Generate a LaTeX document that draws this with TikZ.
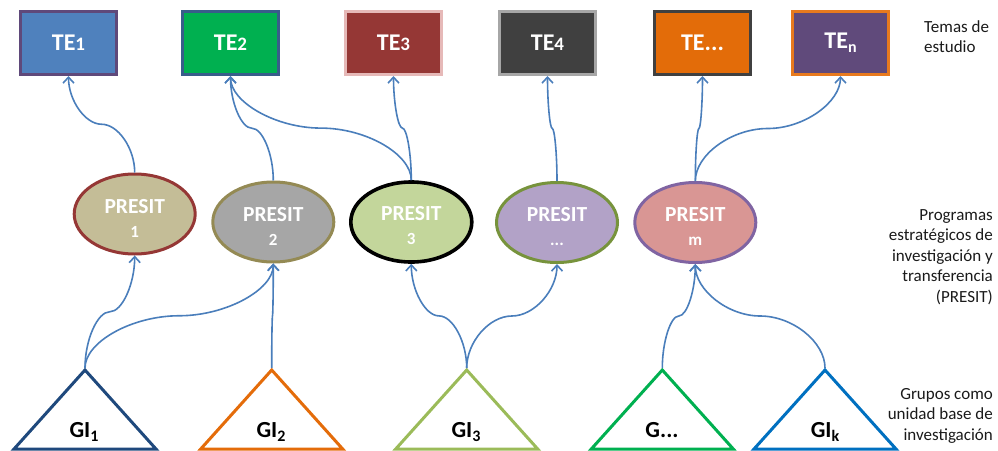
\documentclass[tikz,border=0pt]{standalone}
\usepackage{fontspec}
\setmainfont{Carlito}
\usetikzlibrary{arrows.meta,calc,shapes.geometric}
\definecolor{connC}{HTML}{4A7EBB}
\definecolor{teAf}{HTML}{4F81BD}\definecolor{teAd}{HTML}{5F497A}
\definecolor{teBf}{HTML}{00B050}\definecolor{teBd}{HTML}{385D8A}
\definecolor{teCf}{HTML}{953735}\definecolor{teCd}{HTML}{E6B9B8}
\definecolor{teDf}{HTML}{404040}\definecolor{teDd}{HTML}{A6A6A6}
\definecolor{teEf}{HTML}{E36C09}\definecolor{teEd}{HTML}{404040}
\definecolor{teFf}{HTML}{604A7B}\definecolor{teFd}{HTML}{E87A1E}
\definecolor{pAf}{HTML}{C4BD97}\definecolor{pAd}{HTML}{953735}
\definecolor{pBf}{HTML}{A6A6A6}\definecolor{pBd}{HTML}{948A54}
\definecolor{pCf}{HTML}{C3D69B}\definecolor{pCd}{HTML}{000000}
\definecolor{pDf}{HTML}{B2A2C7}\definecolor{pDd}{HTML}{77933C}
\definecolor{pEf}{HTML}{D99694}\definecolor{pEd}{HTML}{8064A2}
\definecolor{gA}{HTML}{1F497D}
\definecolor{gB}{HTML}{E46C0A}
\definecolor{gC}{HTML}{9BBB59}
\definecolor{gD}{HTML}{00B050}
\definecolor{gE}{HTML}{0070C0}
\definecolor{sideC}{HTML}{1A1A1A}
\tikzset{
  tebox/.style={draw, line width=3pt, minimum width=96pt, minimum height=63pt, inner sep=0pt,
    text=white, font=\fontsize{24}{24}\selectfont\bfseries},
  presit/.style={ellipse, draw, line width=3pt, minimum width=121pt, minimum height=80pt, inner sep=0pt,
    text=white, align=center, font=\fontsize{21.5}{24}\selectfont\bfseries},
  tri/.style={line width=3pt, line join=miter, fill=white},
  gitext/.style={font=\fontsize{23}{23}\selectfont\bfseries, inner sep=0pt, anchor=base},
  side/.style={font=\fontsize{17}{20.5}\selectfont, inner sep=0pt, text=sideC},
  elbow/.style={to path={let \p1=(\tikztostart), \p2=(\tikztotarget) in
    .. controls (\x1,{\y1+(\y2-\y1)/4}) and ({\x1+(\x2-\x1)/4},{(\y1+\y2)/2})
    .. ({(\x1+\x2)/2},{(\y1+\y2)/2})
    .. controls ({\x1+3*(\x2-\x1)/4},{(\y1+\y2)/2}) and (\x2,{\y1+3*(\y2-\y1)/4})
    .. (\tikztotarget) \tikztonodes}},
  conn/.style={draw=connC, line width=1.6pt, -{Straight Barb[length=6pt,width=11pt]}, elbow},
}
\newcommand\smalldig[1]{{\fontsize{19}{19}\selectfont #1}}
\newcommand\subdig[1]{\raisebox{-4pt}{\fontsize{16}{16}\selectfont #1}}
\newcommand\ptext[1]{\rule{0pt}{22pt}PRESIT\\{\fontsize{17}{17}\selectfont #1}}
\begin{document}
\begin{tikzpicture}[x=1pt,y=-1pt]
\useasboundingbox (0,0) rectangle (998,450);
% top boxes
\node[tebox, fill=teAf, draw=teAd] (te1) at (68.5,43) {TE\smalldig{1}};
\node[tebox, fill=teBf, draw=teBd] (te2) at (230.5,43) {TE\smalldig{2}};
\node[tebox, fill=teCf, draw=teCd] (te3) at (393.5,43) {TE\smalldig{3}};
\node[tebox, fill=teDf, draw=teDd] (te4) at (547.5,43) {TE\smalldig{4}};
\node[tebox, fill=teEf, draw=teEd] (te5) at (702.5,43) {TE...};
\node[tebox, fill=teFf, draw=teFd] (te6) at (840.5,43) {TE\subdig{n}};
% ellipses
\node[presit, fill=pAf, draw=pAd] (p1) at (134.7,214) {\ptext{1}};
\node[presit, fill=pBf, draw=pBd] (p2) at (273.3,222) {\ptext{2}};
\node[presit, fill=pCf, draw=pCd, line width=3.6pt] (p3) at (411.3,222) {\ptext{3}};
\node[presit, fill=pDf, draw=pDd] (p4) at (557,222.5) {\ptext{...}};
\node[presit, fill=pEf, draw=pEd] (p5) at (695.3,222.5) {\ptext{m}};
% triangles
\coordinate (g1) at (85,368);
\coordinate (g2) at (271.7,368);
\coordinate (g3) at (466.7,368);
\coordinate (g4) at (662.3,368);
\coordinate (g5) at (825,368);
\draw[tri, draw=gA] (85,370) -- (14,449) -- (156,449) -- cycle;
\draw[tri, draw=gB] (271.7,370) -- (200.7,449) -- (342.7,449) -- cycle;
\draw[tri, draw=gC] (466.7,370) -- (395.7,449) -- (537.7,449) -- cycle;
\draw[tri, draw=gD] (662.3,370) -- (591.3,449) -- (733.3,449) -- cycle;
\draw[tri, draw=gE] (825,370) -- (754,449) -- (896,449) -- cycle;
\node[gitext] (g1t) at (84,437) {GI\subdig{1}};
\node[gitext] (g2t) at (271,437) {GI\subdig{2}};
\node[gitext] (g3t) at (466,437) {GI\subdig{3}};
\node[gitext] (g4t) at (662,437) {G...};
\node[gitext] (g5t) at (825,437) {GI\subdig{k}};
% side labels (base anchor = last line baseline)
\node[side, anchor=base west, align=left] (lab1) at (924,52.5) {Temas de\\estudio};
\node[side, anchor=base east, align=right] (lab2) at (993,302) {Programas\\estratégicos de\\investigación y\\transferencia\\(PRESIT)};
\node[side, anchor=base east, align=right] (lab3) at (993,440) {Grupos como\\unidad base de\\investigación};
% connectors upper
\draw[conn] (p1.north) to (te1.south);
\draw[conn] (p2.north) to (te2.south);
\draw[conn] (p3.north) to (te2.south);
\draw[conn] (p3.north) to (te3.south);
\draw[conn] (p4.north) to (te4.south);
\draw[conn] (p5.north) to (te5.south);
\draw[conn] (p5.north) to (te6.south);
% connectors lower
\draw[conn] (g1) to (p1.south);
\draw[conn] (g1) to (p2.south);
\draw[conn] (g2) to (p2.south);
\draw[conn] (g3) to (p3.south);
\draw[conn] (g3) to (p4.south);
\draw[conn] (g4) to (p5.south);
\draw[conn] (g5) to (p5.south);
\end{tikzpicture}
\end{document}
